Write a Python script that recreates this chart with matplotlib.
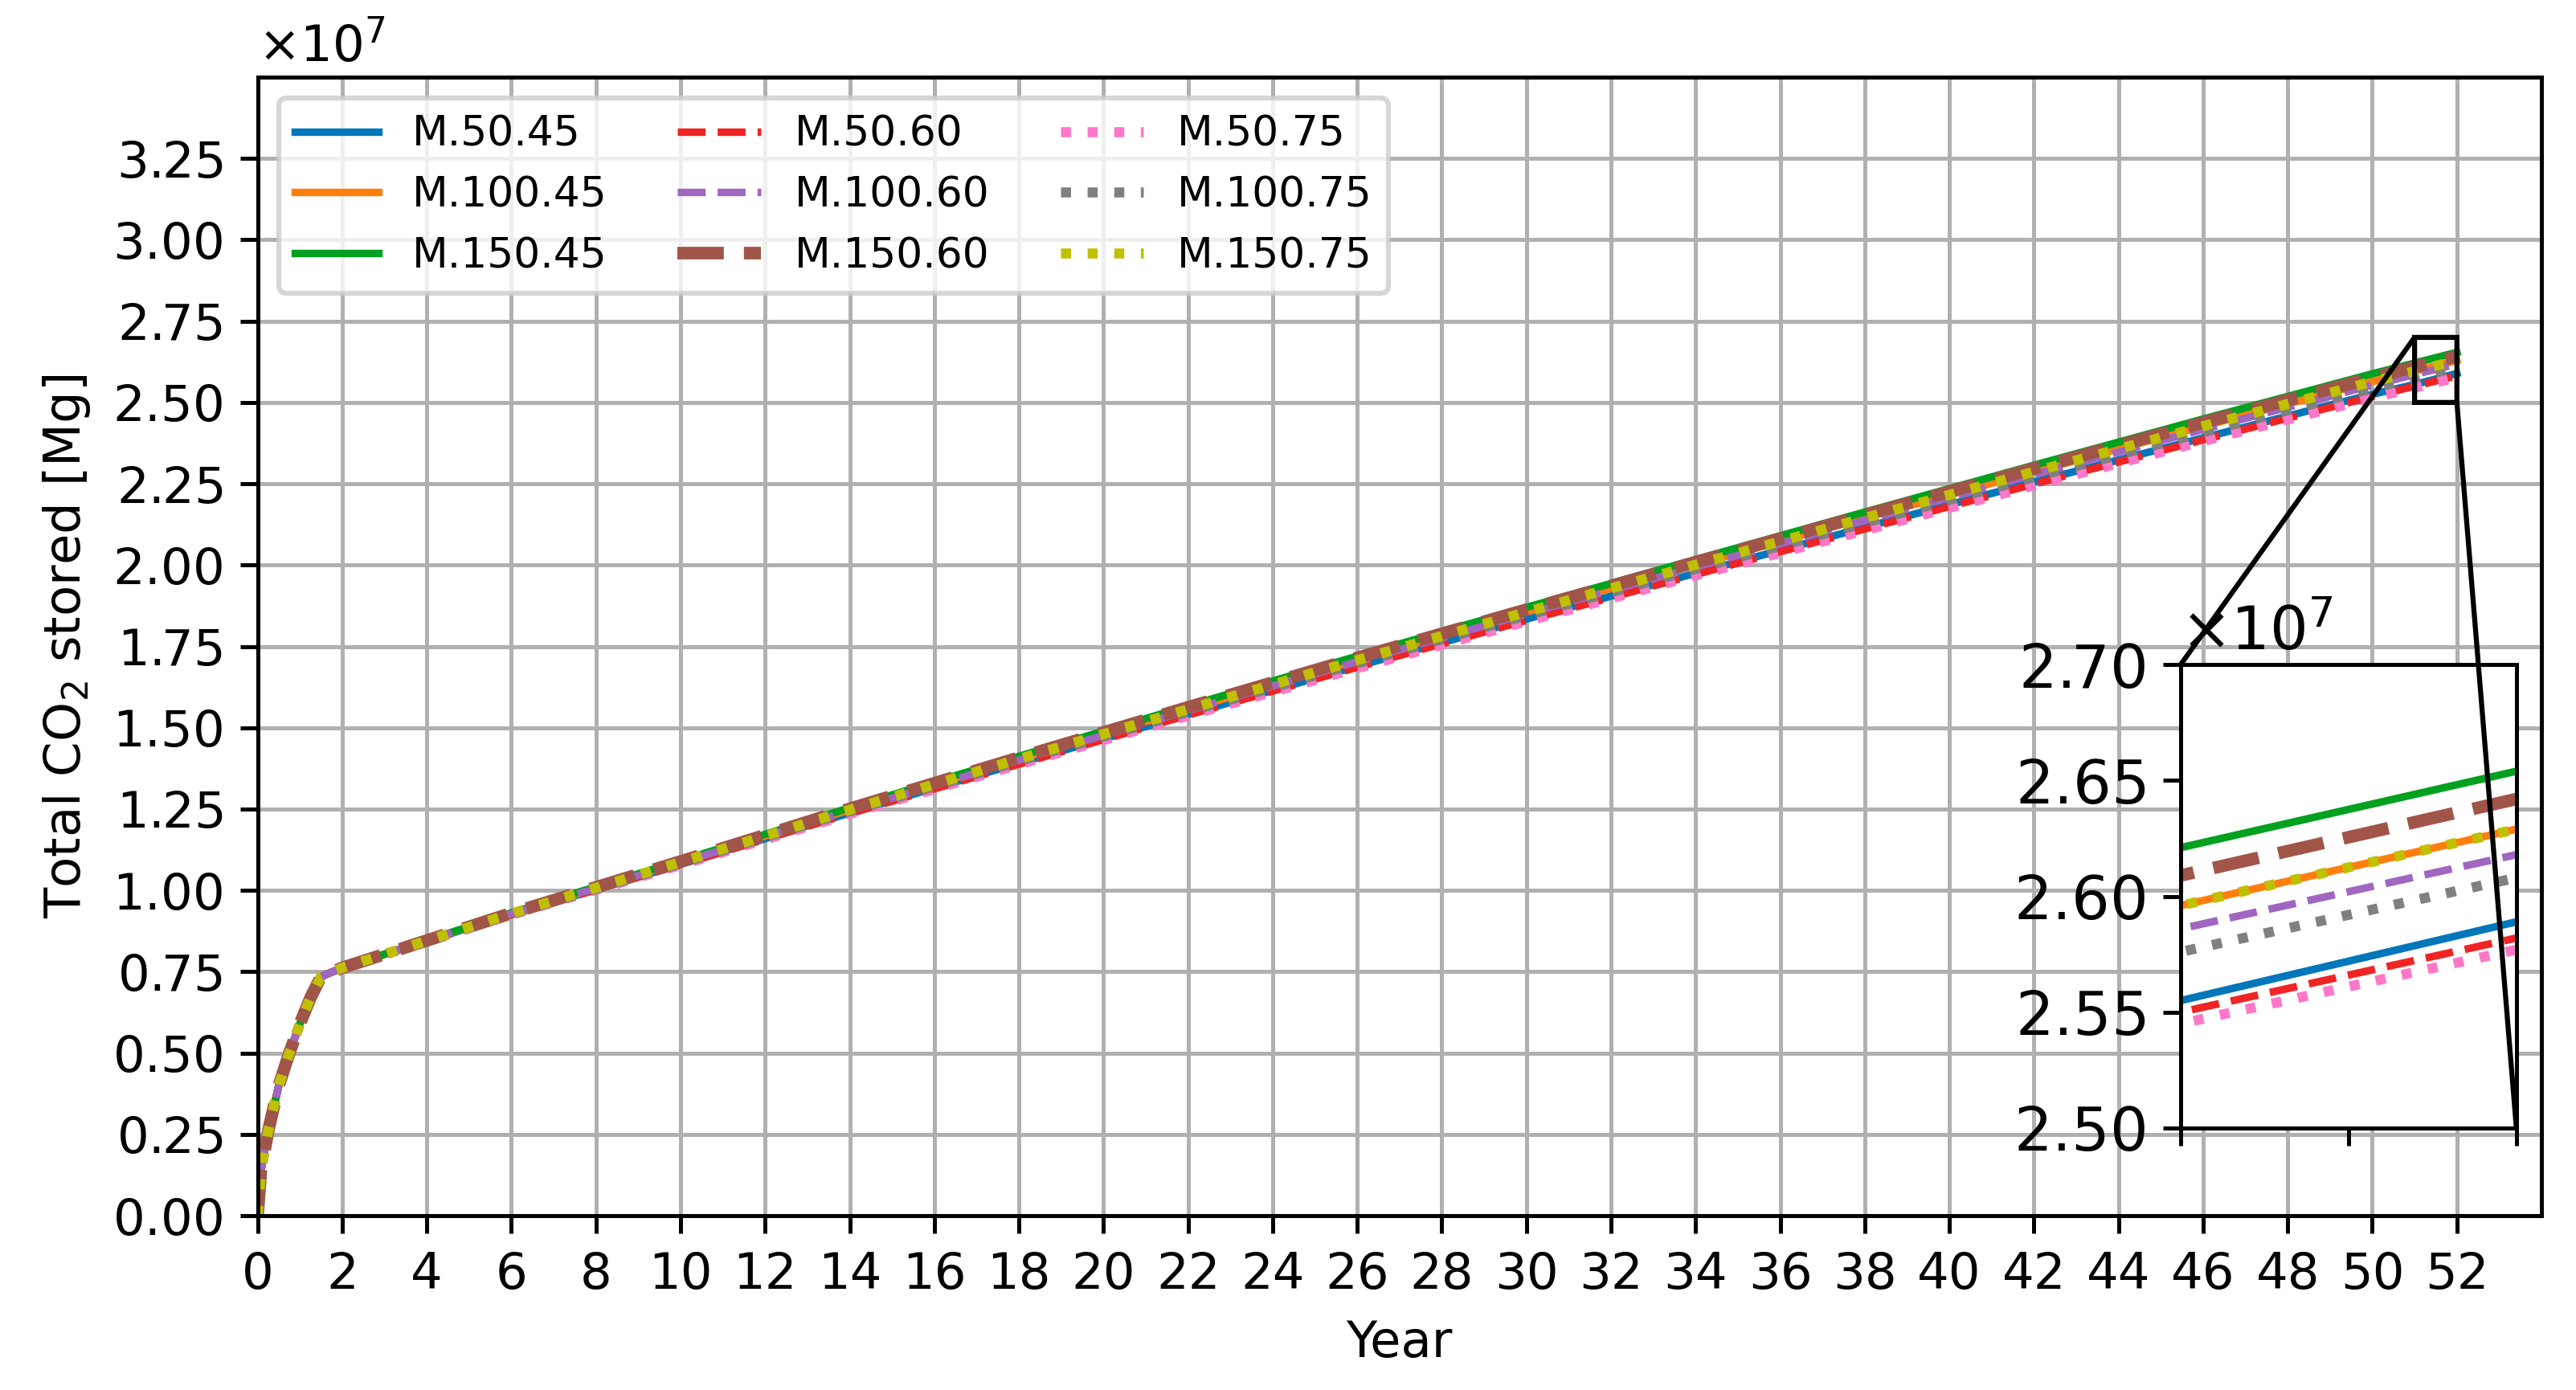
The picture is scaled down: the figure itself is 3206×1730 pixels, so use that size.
import matplotlib.pyplot as plt
from matplotlib.ticker import ScalarFormatter

# Years of simulation output (shared by all cases)
years = [0, 0.08, 0.25, 0.5, 0.75, 1.0, 1.25, 1.5, 2, 6, 10, 14, 18, 22, 26, 30,
         34, 38, 42, 46, 50, 51, 52]

# Injection start-up phase, identical for all cases (x1e7 Mg)
early = [0, 0.14, 0.26, 0.40, 0.50, 0.59, 0.67, 0.735]

# Total CO2 stored after the start-up phase (x1e7 Mg)
m50_45 = [0.762, 0.926, 1.080, 1.238, 1.391, 1.541, 1.689, 1.834, 1.975, 2.116, 2.255, 2.391, 2.525, 2.555, 2.589]
m100_45 = [0.762, 0.929, 1.087, 1.248, 1.404, 1.557, 1.708, 1.856, 2.001, 2.145, 2.287, 2.427, 2.564, 2.596, 2.629]
m150_45 = [0.762, 0.931, 1.091, 1.254, 1.412, 1.567, 1.720, 1.870, 2.017, 2.163, 2.307, 2.449, 2.588, 2.621, 2.654]
m50_60 = [0.762, 0.925, 1.079, 1.236, 1.388, 1.539, 1.686, 1.830, 1.971, 2.111, 2.249, 2.385, 2.518, 2.550, 2.582]
m100_60 = [0.762, 0.928, 1.085, 1.245, 1.400, 1.553, 1.703, 1.850, 1.994, 2.137, 2.278, 2.417, 2.553, 2.586, 2.618]
m150_60 = [0.762, 0.930, 1.089, 1.251, 1.408, 1.563, 1.715, 1.863, 2.009, 2.154, 2.297, 2.438, 2.576, 2.609, 2.642]
m50_75 = [0.762, 0.925, 1.078, 1.235, 1.387, 1.537, 1.683, 1.827, 1.968, 2.107, 2.245, 2.381, 2.514, 2.545, 2.577]
m100_75 = [0.762, 0.927, 1.083, 1.243, 1.397, 1.549, 1.698, 1.845, 1.988, 2.130, 2.270, 2.408, 2.543, 2.576, 2.608]
m150_75 = [0.762, 0.929, 1.087, 1.248, 1.404, 1.557, 1.708, 1.856, 2.001, 2.145, 2.287, 2.427, 2.564, 2.596, 2.629]

names = ['M.50.45', 'M.100.45', 'M.150.45',
         'M.50.60', 'M.100.60', 'M.150.60',
         'M.50.75', 'M.100.75', 'M.150.75']
series = [m50_45, m100_45, m150_45, m50_60, m100_60, m150_60, m50_75, m100_75, m150_75]

colors = ['#0077bb', '#ff7f0e', '#00a020', '#f02424', '#a066c0',
          '#a05548', '#ff77c8', '#808080', '#c0c000']
styles = ['-', '-', '-', '--', '--', '--', ':', ':', ':']
widths = [1.5, 1.5, 1.5, 1.5, 1.5, 2.5, 2, 2, 2]

fig = plt.figure(figsize=(3206 / 450, 1730 / 450), dpi=450)
ax = fig.add_subplot(111)
fig.subplots_adjust(left=0.100, right=0.9866, top=0.9445, bottom=0.1254)

axins = ax.inset_axes([0.842, 0.077, 0.147, 0.407])

for name, vals, c, ls, lw in zip(names, series, colors, styles, widths):
    y = [v * 1e7 for v in early + vals]
    ax.plot(years, y, ls, color=c, lw=lw, label=name)
    axins.plot(years, y, ls, color=c, lw=lw)

ax.yaxis.set_major_formatter(ScalarFormatter(useMathText=True))
ax.set_xlim(0, 54)
ax.set_ylim(0, 3.5e7)
ax.set_xticks(range(0, 53, 2))
ax.set_yticks([i * 0.25e7 for i in range(14)])
ax.grid(True)
ax.set_axisbelow(True)
ax.set_xlabel('Year')
ax.set_ylabel('Total CO$_2$ stored [Mg]')
ax.legend(ncol=3, loc='upper left', fontsize=8.3, columnspacing=1.7)

# zoomed view of the last year
axins.yaxis.set_major_formatter(ScalarFormatter(useMathText=True))
axins.set_xlim(51, 52)
axins.set_ylim(2.5e7, 2.7e7)
axins.set_xticks([51, 51.5, 52])
axins.set_xticklabels([])
axins.set_yticks([2.5e7, 2.55e7, 2.6e7, 2.65e7, 2.7e7])
axins.tick_params(labelsize=12)
axins.yaxis.get_offset_text().set_fontsize(12)
ind = ax.indicate_inset_zoom(axins, edgecolor='black', alpha=1, linewidth=1.0)
ind.set_zorder(10)
for i, cl in enumerate(ind.connectors):
    cl.set_visible(i in (1, 2))

plt.savefig('out.png', dpi=450)
